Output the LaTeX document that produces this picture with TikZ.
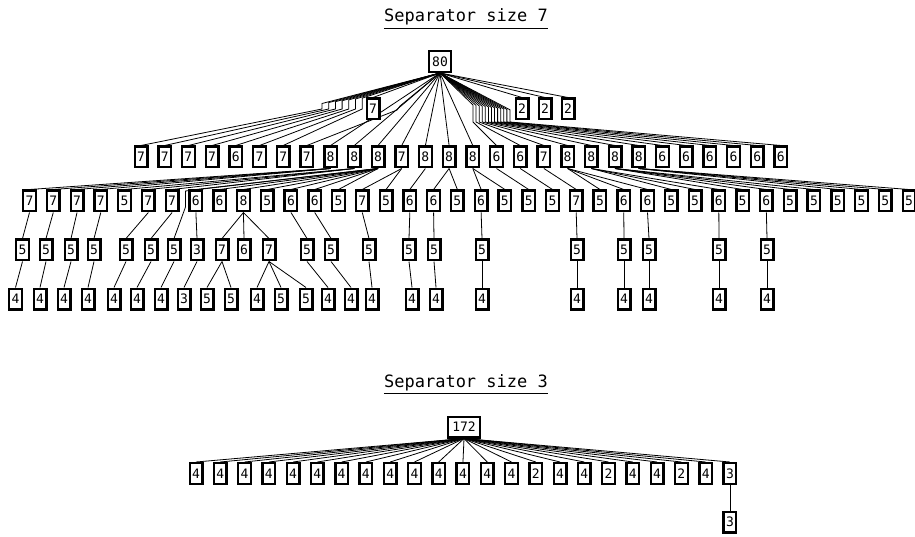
\documentclass[tikz,border=0pt]{standalone}
\usepackage{fontspec}
\newfontfamily\monof{DejaVu Sans Mono}
\pgfdeclarelayer{bg}
\pgfsetlayers{bg,main}
\tikzset{
  bx/.style={draw, fill=white, line width=2.4pt, minimum width=12.6pt, minimum height=20.6pt,
    inner sep=0pt, font=\monof\fontsize{13}{13}\selectfont},
  edge/.style={line width=0.8pt},
  ttl/.style={font=\monof\fontsize{17}{17}\selectfont, inner sep=0pt, anchor=base},
}
\begin{document}
\begin{tikzpicture}[x=1pt,y=-1pt]
\useasboundingbox (0,0) rectangle (915,537);
% titles
\node[ttl] (t1) at (466,22) {Separator size 7};
\node[ttl] (t2) at (466,387) {Separator size 3};
\draw[line width=0.9pt] ([yshift=-6pt]t1.base west) -- ([yshift=-6pt]t1.base east);
\draw[line width=0.9pt] ([yshift=-6pt]t2.base west) -- ([yshift=-6pt]t2.base east);
% ---------- top tree ----------
\node[bx, minimum width=21.6pt] (r) at (440,61.5) {80};
\node[bx] (p7) at (373,109) {7};
\node[bx] (q1) at (522,109) {2};
\node[bx] (q2) at (545,109) {2};
\node[bx] (q3) at (568,109) {2};
\foreach \l [count=\i] in {7,7,7,7,6,7,7,7,8,8,8,7,8,8,8,6,6,7,8,8,8,8,6,6,6,6,6,6}
  \node[bx] (m\i) at ({141+(\i-1)*23.7},157) {\l};
\foreach \l [count=\i] in {7,7,7,7,5,7,7,6,6,8,5,6,6,5,7,5,6,6,5,6,5,5,5,7,5,6,6,5,5,6,5,6,5,5,5,5,5,5}
  \node[bx] (n\i) at ({29.5+(\i-1)*23.77},201) {\l};
\foreach \nm/\x/\l in {a1/22.5/5,a2/46/5,a3/71/5,a4/94/5,a5/126/5,a6/151/5,a7/174/5,a8/197/3,
  a9/222/7,a10/244/6,a11/269/7,a12/307/5,a13/331/5,a14/369/5,a15/409/5,a16/434/5,a17/482/5,
  a18/577/5,a19/624/5,a20/649/5,a21/719/5,a22/767/5}
  \node[bx] (\nm) at (\x,250) {\l};
\foreach \nm/\x/\l in {b1/15.5/4,b2/40/4,b3/64/4,b4/88/4,b5/114/4,b6/137/4,b7/161/4,b8/184/3,
  b9/207/5,b10/231/5,b11/257/4,b12/281/5,b13/306/5,b14/328/4,b15/351/4,b16/372/4,b17/412/4,
  b18/436/4,b19/482/4,b20/577/4,b21/624/4,b22/649/4,b23/719/4,b24/767/4}
  \node[bx] (\nm) at (\x,299) {\l};
% ---------- bottom tree ----------
\node[bx, minimum width=31.6pt] (R) at (464,427) {172};
\foreach \l [count=\i] in {4,4,4,4,4,4,4,4,4,4,4,4,4,4,2,4,4,2,4,4,2,4,3}
  \node[bx] (c\i) at ({196+(\i-1)*24.27},473.5) {\l};
\node[bx] (d) at (c23 |- 0,522) {3};
% ---------- edges ----------
\begin{pgfonlayer}{bg}
\begin{scope}[edge]
% root to level 1 leaves
\foreach \t in {p7,q1,q2,q3} \draw (r.south) -- (\t.north);
% root to level 2 through bends on the left
\foreach \k in {1,...,7}
  \draw (r.south) -- ({322+(\k-1)*6.7},{103.5-(\k-1)*0.9}) -- ({322+(\k-1)*6.7},109) -- (m\k.north);
\draw (r.south) -- (400,106) -- (397,110) -- (m8.north);
% straight
\foreach \k in {9,...,15} \draw (r.south) -- (m\k.north);
% through bends on the right
\foreach \k in {16,...,28}
  \draw (r.south) -- ({473+(\k-16)*3.08},{105+(\k-16)*0.4}) -- ({473+(\k-16)*3.08},122) -- (m\k.north);
% level 2 -> level 3
\foreach \c in {1,2,3,4} \draw (m9.south) -- (n\c.north);
\foreach \c in {5,6,7} \draw (m10.south) -- (n\c.north);
\foreach \c in {8,...,14} \draw (m11.south) -- (n\c.north);
\draw (m11.south) -- (185.5,191) -- (185.5,207) -- (a7.north);
\foreach \c in {15,16} \draw (m12.south) -- (n\c.north);
\draw (m13.south) -- (n17.north);
\foreach \c in {18,19} \draw (m14.south) -- (n\c.north);
\foreach \c in {20,21} \draw (m15.south) -- (n\c.north);
\draw (m16.south) -- (n22.north);
\draw (m17.south) -- (n23.north);
\draw (m18.south) -- (n24.north);
\foreach \c in {25,26,27} \draw (m19.south) -- (n\c.north);
\foreach \c in {28,29,30} \draw (m20.south) -- (n\c.north);
\foreach \c in {31,...,34} \draw (m21.south) -- (n\c.north);
\foreach \c in {35,...,38} \draw (m22.south) -- (n\c.north);
% level 3 -> level 4
\foreach \c/\p in {a1/n1,a2/n2,a3/n3,a4/n4,a5/n6,a6/n7,a8/n8,a9/n10,a10/n10,a11/n10,
  a12/n12,a13/n13,a14/n15,a15/n17,a16/n18,a17/n20,a18/n24,a19/n26,a20/n27,a21/n30,a22/n32}
  \draw (\p.south) -- (\c.north);
% level 4 -> level 5
\foreach \c/\p in {b1/a1,b2/a2,b3/a3,b4/a4,b5/a5,b6/a6,b7/a7,b8/a8,b9/a9,b10/a9,b11/a11,
  b12/a11,b13/a11,b14/a12,b15/a13,b16/a14,b17/a15,b18/a16,b19/a17,b20/a18,b21/a19,b22/a20,
  b23/a21,b24/a22}
  \draw (\p.south) -- (\c.north);
% bottom tree
\foreach \i in {1,...,23} \draw (R.south) -- (c\i.north);
\draw (c23.south) -- (d.north);
\end{scope}
\end{pgfonlayer}
\end{tikzpicture}
\end{document}
